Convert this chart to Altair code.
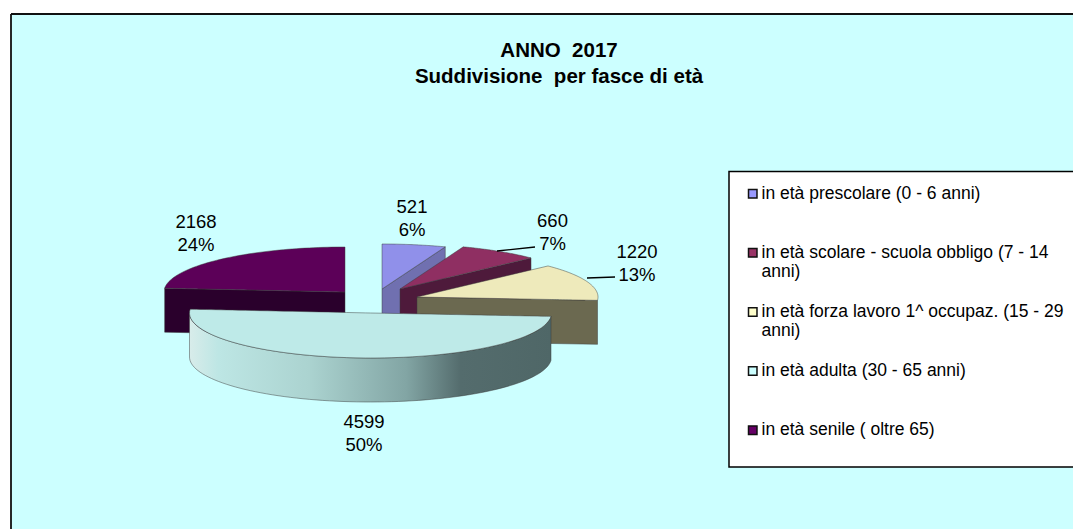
import math
import altair as alt
import pandas as pd

categories = [
    "in età prescolare (0 - 6 anni)",
    "in età scolare - scuola obbligo (7 - 14|anni)",
    "in età forza lavoro 1^ occupaz. (15 - 29|anni)",
    "in età adulta (30 - 65 anni)",
    "in età senile ( oltre 65)",
]
values = [521, 660, 1220, 4599, 2168]
legend_colors = ["#9999FF", "#993366", "#FFFFCC", "#CCFFFF", "#660066"]
top_colors = ["#9090EA", "#8F2F62", "#EEEABB", "#BEEAE8", "#5C0058"]
face_colors = ["#7070B0", "#4E1A3B", "#6B6950", "#4F6767", "#2A002C"]

# projected pie geometry (layout only)
RX, RY, DEPTH = 181, 45, 44
centers = [(382, 289), (400, 289), (417, 297), (370.5, 313), (345, 292)]
label_pos = [(412, 198), (552.5, 212), (637, 243), (364, 413), (196, 213)]
leaders = [(497, 251, 535, 247), (587, 278, 615, 277)]

FONT = "Liberation Sans"
total = sum(values)
cum = [0]
for v in values:
    cum.append(cum[-1] + v / total * 2 * math.pi)


def rim(i, a):
    cx, cy = centers[i]
    return cx + RX * math.sin(a), cy - RY * math.cos(a)


def arc(i, n=60):
    a0, a1 = cum[i], cum[i + 1]
    return [rim(i, a0 + (a1 - a0) * k / n) for k in range(n + 1)]


def span(poly):
    """Upper and lower outline of a sector, as an x / y / y2 table."""
    xs = sorted({round(p[0], 2) for p in poly})
    rows = []
    m = len(poly)
    for x in xs:
        ys = []
        for k in range(m):
            (xa, ya), (xb, yb) = poly[k], poly[(k + 1) % m]
            lo, hi = min(xa, xb), max(xa, xb)
            if lo - 0.01 <= x <= hi + 0.01:
                if abs(xb - xa) < 0.01:
                    ys += [ya, yb]
                else:
                    ys.append(ya + (yb - ya) * (x - xa) / (xb - xa))
        rows.append({"x": x, "y": min(ys), "y2": max(ys)})
    return pd.DataFrame(rows)


XS = alt.Scale(domain=[11, 1073], range=[0, 1062])
YS = alt.Scale(domain=[14, 529], range=[0, 515])
X = alt.X("x:Q", scale=XS, axis=None)
Y = alt.Y("y:Q", scale=YS, axis=None)


def area(df, fill, stroke="#3a3a3a"):
    return (
        alt.Chart(df)
        .mark_area(color=fill, stroke=stroke, strokeWidth=0.8, strokeOpacity=0.6)
        .encode(x=X, y=Y, y2="y2:Q")
    )


def cut_face(i, a):
    cx, cy = centers[i]
    rx, ry = rim(i, a)
    return pd.DataFrame(
        [{"x": cx, "y": cy, "y2": cy + DEPTH}, {"x": rx, "y": ry, "y2": ry + DEPTH}]
    )


def wall(i):
    a0, a1 = max(cum[i], math.pi / 2), min(cum[i + 1], 3 * math.pi / 2)
    rows = []
    for k in range(81):
        x, y = rim(i, a0 + (a1 - a0) * k / 80)
        rows.append({"x": x, "y": y, "y2": y + DEPTH})
    return pd.DataFrame(rows).sort_values("x")


wall_gradient = alt.Gradient(
    gradient="linear",
    x1=0, x2=1, y1=0, y2=0,
    stops=[
        alt.GradientStop(color="#D8ECEA", offset=0),
        alt.GradientStop(color="#BDE6E4", offset=0.08),
        alt.GradientStop(color="#ABD3D0", offset=0.33),
        alt.GradientStop(color="#82A5A4", offset=0.6),
        alt.GradientStop(color="#546C6D", offset=0.75),
        alt.GradientStop(color="#4F6767", offset=1),
    ],
)

layers = []

# outer frame: top and left edges only, the others fall outside the picture
layers.append(
    alt.Chart(pd.DataFrame([
        {"x": 11, "x2": 11, "y": 14, "y2": 529},
        {"x": 11, "x2": 1073, "y": 14, "y2": 14},
    ]))
    .mark_rule(color="#111111", strokeWidth=1.8, clip=False)
    .encode(x=X, x2="x2:Q", y=Y, y2="y2:Q")
)

# legend box behind the native legend, running off the right edge
layers.append(
    alt.Chart(pd.DataFrame([{"x": 729, "x2": 1090, "y": 171.5, "y2": 467}]))
    .mark_rect(fill="white", stroke="black", strokeWidth=1.5)
    .encode(x=X, x2="x2:Q", y=Y, y2="y2:Q")
)

# carries the colour scale and the legend
legend_df = pd.DataFrame(
    {"cat": categories, "x": [c[0] for c in centers], "y": [c[1] for c in centers]}
)
layers.append(
    alt.Chart(legend_df)
    .mark_square(opacity=0)
    .encode(
        x=X,
        y=Y,
        color=alt.Color(
            "cat:N",
            scale=alt.Scale(domain=categories, range=legend_colors),
            sort=categories,
            legend=alt.Legend(
                title=None,
                orient="none",
                legendX=733,
                legendY=171,
                padding=0,
                symbolType="square",
                symbolSize=72,
                symbolOpacity=1,
                symbolStrokeColor="#111111",
                symbolStrokeWidth=1.5,
                labelFont=FONT,
                labelFontSize=17.5,
                labelColor="black",
                labelLimit=340,
                labelOffset=0,
                rowPadding=1.1,
                zindex=1,
                labelExpr="[split(datum.label,'|')[0], split(datum.label,'|')[1] || ' ', ' ']",
            ),
        ),
    )
)


def sector(i):
    return [centers[i]] + arc(i)


# senile: cut face in front, top surface
layers.append(area(cut_face(4, cum[4]), face_colors[4]))
layers.append(area(span(sector(4)), top_colors[4]))
# prescolare, scolare, forza lavoro: face below end radius, then top
for i in (0, 1, 2):
    layers.append(area(cut_face(i, cum[i + 1]), face_colors[i]))
    layers.append(area(span(sector(i)), top_colors[i]))
# adulta: curved wall with gradient, then top
layers.append(area(wall(3), wall_gradient))
layers.append(area(span(sector(3)), top_colors[3]))

# leader lines
layers.append(
    alt.Chart(pd.DataFrame(leaders, columns=["x", "y", "x2", "y2"]))
    .mark_rule(color="black", strokeWidth=1.3)
    .encode(x=X, y=Y, x2="x2:Q", y2="y2:Q")
)

# slice labels
label_df = pd.DataFrame(
    {
        "x": [p[0] for p in label_pos],
        "y": [p[1] for p in label_pos],
        "t": [f"{v}\n{round(v / total * 100)}%" for v in values],
    }
)
layers.append(
    alt.Chart(label_df)
    .mark_text(
        font=FONT, fontSize=18.5, lineBreak="\n", lineHeight=22.5,
        baseline="top", align="center", color="black",
    )
    .encode(x=X, y=Y, text="t:N")
)

chart = (
    alt.layer(*layers)
    .resolve_scale(color="independent")
    .properties(
        width=1062,
        height=515,
        autosize=alt.AutoSizeParams(type="none"),
        padding={"left": 3, "top": 6, "right": 0, "bottom": 0},
        background="white",
        title=alt.TitleParams(
            text=["ANNO\u00a0\u00a02017", "Suddivisione\u00a0\u00a0per fasce di età"],
            font=FONT,
            fontSize=20.5,
            fontWeight="bold",
            color="black",
            lineHeight=26,
            anchor="middle",
            dx=17,
            offset=-74,
        ),
    )
    .configure_view(fill="#CCFFFF", stroke=None)
)

chart.save("out.html", embed_options={"renderer": "svg", "actions": False})
